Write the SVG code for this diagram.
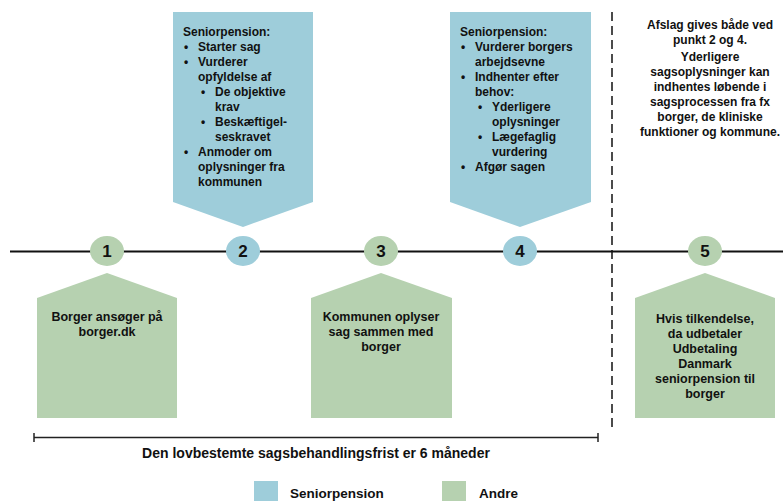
<svg xmlns="http://www.w3.org/2000/svg" width="783" height="501" viewBox="0 0 783 501">
<style>
.blue{fill:#9ecdda}
.green{fill:#b6d1b0}
text{font-family:"Liberation Sans",Arial,sans-serif;font-weight:bold;font-size:12px;fill:#111}
.num{font-size:17px;text-anchor:middle}
.c{text-anchor:middle}
.g{font-size:12.5px}
.big{font-size:14px}
.leg{font-size:13.5px}
.line{stroke:#111;stroke-width:2;fill:none}
</style>
<rect width="783" height="501" fill="#fff"/>
<g id="connectors">
<line class="line" x1="10" y1="251.5" x2="783" y2="251.5"/>
<line x1="612" y1="12" x2="612" y2="427" stroke="#111" stroke-width="1.5" stroke-dasharray="9 5"/>
<g id="bracket" stroke="#222" stroke-width="1.5">
<line x1="34" y1="437.5" x2="598" y2="437.5"/>
<line x1="34" y1="433" x2="34" y2="442"/>
<line x1="598" y1="433" x2="598" y2="442"/>
</g>
</g>
<g id="box2">
<polygon class="blue" points="173,12 313,12 313,202 243,227 173,202"/>
<text x="183" y="36">Seniorpension:</text>
<text x="184" y="51">•</text><text x="198" y="51">Starter sag</text>
<text x="184" y="66">•</text><text x="198" y="66">Vurderer</text>
<text x="198" y="81">opfyldelse af</text>
<text x="201" y="96">•</text><text x="215" y="96">De objektive</text>
<text x="215" y="111">krav</text>
<text x="201" y="126">•</text><text x="215" y="126">Beskæftigel-</text>
<text x="215" y="141">seskravet</text>
<text x="184" y="156">•</text><text x="198" y="156">Anmoder om</text>
<text x="198" y="171">oplysninger fra</text>
<text x="198" y="186">kommunen</text>
</g>
<g id="box4">
<polygon class="blue" points="450,12 591,12 591,202 520,227 450,202"/>
<text x="460" y="36">Seniorpension:</text>
<text x="461" y="51">•</text><text x="475" y="51">Vurderer borgers</text>
<text x="475" y="66">arbejdsevne</text>
<text x="461" y="81">•</text><text x="475" y="81">Indhenter efter</text>
<text x="475" y="96">behov:</text>
<text x="478" y="111">•</text><text x="492" y="111">Yderligere</text>
<text x="492" y="126">oplysninger</text>
<text x="478" y="141">•</text><text x="492" y="141">Lægefaglig</text>
<text x="492" y="156">vurdering</text>
<text x="461" y="171">•</text><text x="475" y="171">Afgør sagen</text>
</g>
<g id="note">
<text class="c" x="710" y="29">Afslag gives både ved</text>
<text class="c" x="710" y="44">punkt 2 og 4.</text>
<text class="c" x="710" y="61">Yderligere</text>
<text class="c" x="710" y="76">sagsoplysninger kan</text>
<text class="c" x="710" y="91">indhentes løbende i</text>
<text class="c" x="710" y="106">sagsprocessen fra fx</text>
<text class="c" x="710" y="121">borger, de kliniske</text>
<text class="c" x="710" y="136">funktioner og kommune.</text>
</g>
<g id="n1">
<ellipse class="green" cx="107" cy="251" rx="17" ry="15"/>
<text class="num" x="107" y="257">1</text>
</g>
<g id="n2">
<ellipse class="blue" cx="243" cy="251" rx="17" ry="15"/>
<text class="num" x="243" y="257">2</text>
</g>
<g id="n3">
<ellipse class="green" cx="381" cy="251" rx="17" ry="15"/>
<text class="num" x="381" y="257">3</text>
</g>
<g id="n4">
<ellipse class="blue" cx="520" cy="251" rx="17" ry="15"/>
<text class="num" x="520" y="257">4</text>
</g>
<g id="n5">
<ellipse class="green" cx="705" cy="251" rx="17" ry="15"/>
<text class="num" x="705" y="257">5</text>
</g>
<g id="box1">
<polygon class="green" points="37,298 107,273 177,298 177,418 37,418"/>
<text class="c g" x="107" y="321">Borger ansøger på</text>
<text class="c g" x="107" y="336">borger.dk</text>
</g>
<g id="box3">
<polygon class="green" points="311,298 381,273 452,298 452,418 311,418"/>
<text class="c g" x="381" y="321">Kommunen oplyser</text>
<text class="c g" x="381" y="336">sag sammen med</text>
<text class="c g" x="381" y="351">borger</text>
</g>
<g id="box5">
<polygon class="green" points="635,298 705,273 775,298 775,418 635,418"/>
<text class="c g" x="705" y="323">Hvis tilkendelse,</text>
<text class="c g" x="705" y="338">da udbetaler</text>
<text class="c g" x="705" y="353">Udbetaling</text>
<text class="c g" x="705" y="368">Danmark</text>
<text class="c g" x="705" y="383">seniorpension til</text>
<text class="c g" x="705" y="398">borger</text>
</g>
<g id="caption">
<text class="c big" x="316" y="458">Den lovbestemte sagsbehandlingsfrist er 6 måneder</text>
</g>
<g id="legend">
<rect class="blue" x="254" y="481" width="24" height="20"/>
<text class="leg" x="290" y="498">Seniorpension</text>
<rect class="green" x="442" y="481" width="24" height="20"/>
<text class="leg" x="479" y="498">Andre</text>
</g>
</svg>
